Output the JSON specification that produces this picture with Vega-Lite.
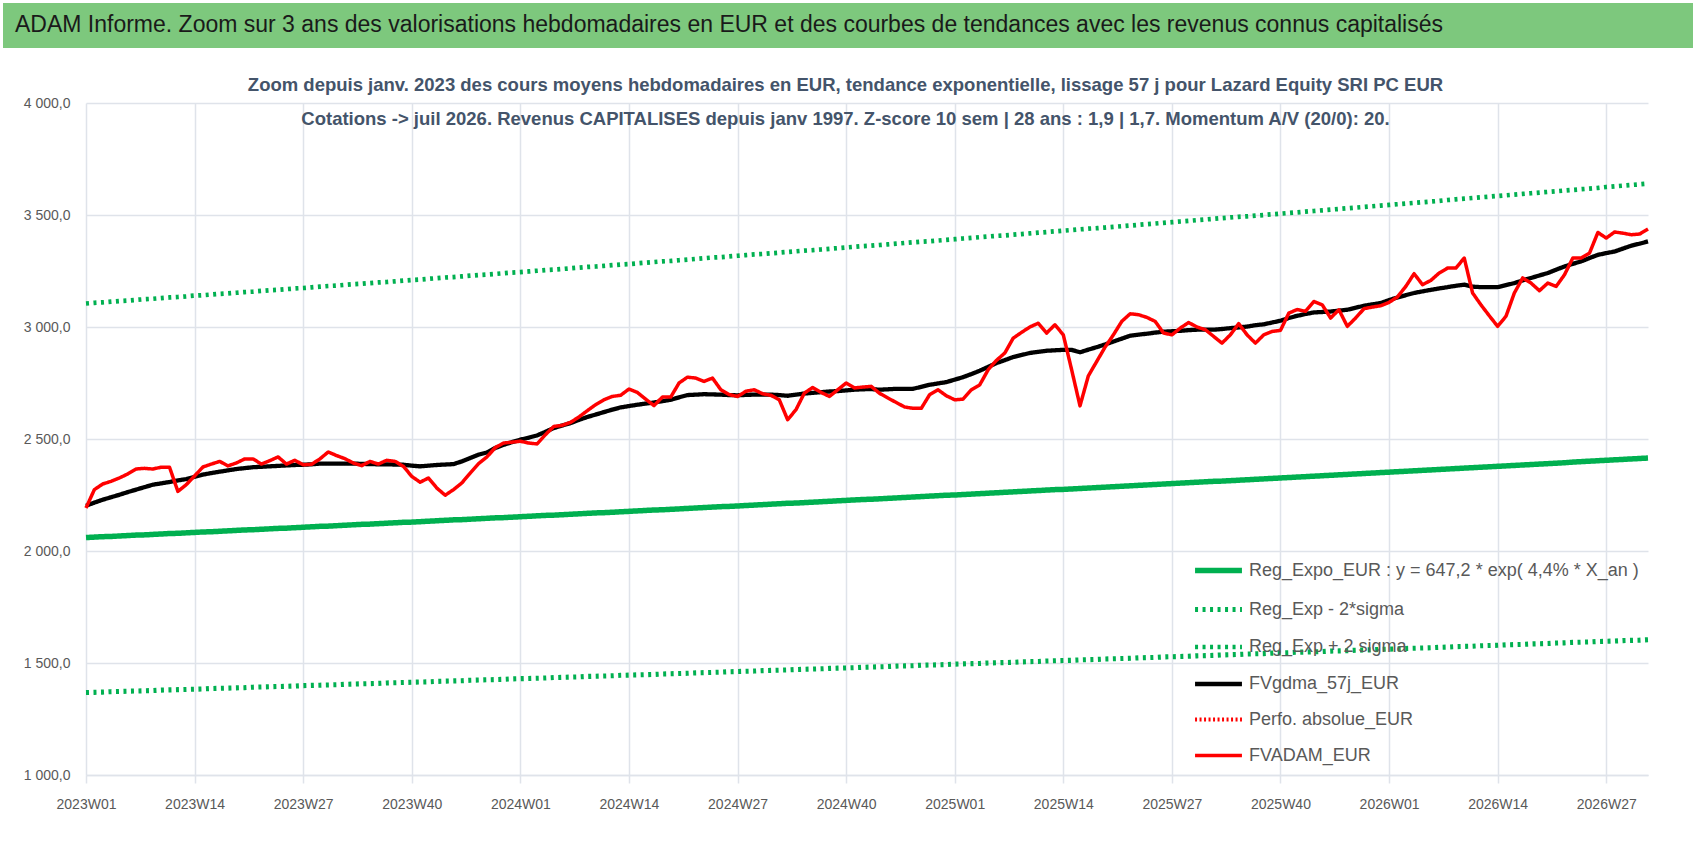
{
  "$schema": "https://vega.github.io/schema/vega-lite/v6.json",
  "background": "white",
  "padding": {"left": 3, "top": 3, "right": 0, "bottom": 0},
  "spacing": 27,
  "resolve": {
    "scale": {"color": "independent", "strokeDash": "independent", "strokeWidth": "independent"},
    "legend": {"color": "independent", "strokeDash": "independent", "strokeWidth": "independent"}
  },
  "config": {
    "font": "Liberation Sans",
    "locale": {"number": {"decimal": ",", "thousands": " ", "grouping": [3], "currency": ["", " €"]}},
    "view": {"stroke": null}
  },
  "datasets": {
    "banner": [{"t": ""}],
    "weeks": [
      {"w":"2023W01","fv":2192,"ma":2202,"reg":2060,"lo":1368,"hi":3105},
      {"w":"2023W02","fv":2274,"ma":2216,"reg":2062,"lo":1369,"hi":3108},
      {"w":"2023W03","fv":2299,"ma":2229,"reg":2064,"lo":1370,"hi":3110},
      {"w":"2023W04","fv":2311,"ma":2240,"reg":2065,"lo":1372,"hi":3113},
      {"w":"2023W05","fv":2326,"ma":2251,"reg":2067,"lo":1373,"hi":3116},
      {"w":"2023W06","fv":2344,"ma":2263,"reg":2069,"lo":1374,"hi":3118},
      {"w":"2023W07","fv":2366,"ma":2274,"reg":2071,"lo":1375,"hi":3121},
      {"w":"2023W08","fv":2369,"ma":2285,"reg":2072,"lo":1376,"hi":3124},
      {"w":"2023W09","fv":2366,"ma":2296,"reg":2074,"lo":1377,"hi":3126},
      {"w":"2023W10","fv":2374,"ma":2302,"reg":2076,"lo":1379,"hi":3129},
      {"w":"2023W11","fv":2374,"ma":2308,"reg":2078,"lo":1380,"hi":3132},
      {"w":"2023W12","fv":2266,"ma":2315,"reg":2079,"lo":1381,"hi":3134},
      {"w":"2023W13","fv":2296,"ma":2321,"reg":2081,"lo":1382,"hi":3137},
      {"w":"2023W14","fv":2335,"ma":2331,"reg":2083,"lo":1383,"hi":3140},
      {"w":"2023W15","fv":2375,"ma":2341,"reg":2085,"lo":1384,"hi":3142},
      {"w":"2023W16","fv":2388,"ma":2348,"reg":2086,"lo":1386,"hi":3145},
      {"w":"2023W17","fv":2400,"ma":2354,"reg":2088,"lo":1387,"hi":3148},
      {"w":"2023W18","fv":2380,"ma":2360,"reg":2090,"lo":1388,"hi":3150},
      {"w":"2023W19","fv":2393,"ma":2366,"reg":2092,"lo":1389,"hi":3153},
      {"w":"2023W20","fv":2411,"ma":2370,"reg":2094,"lo":1390,"hi":3156},
      {"w":"2023W21","fv":2411,"ma":2374,"reg":2095,"lo":1392,"hi":3158},
      {"w":"2023W22","fv":2388,"ma":2376,"reg":2097,"lo":1393,"hi":3161},
      {"w":"2023W23","fv":2403,"ma":2378,"reg":2099,"lo":1394,"hi":3164},
      {"w":"2023W24","fv":2420,"ma":2380,"reg":2101,"lo":1395,"hi":3166},
      {"w":"2023W25","fv":2388,"ma":2382,"reg":2102,"lo":1396,"hi":3169},
      {"w":"2023W26","fv":2405,"ma":2384,"reg":2104,"lo":1397,"hi":3172},
      {"w":"2023W27","fv":2385,"ma":2385,"reg":2106,"lo":1399,"hi":3174},
      {"w":"2023W28","fv":2387,"ma":2387,"reg":2108,"lo":1400,"hi":3177},
      {"w":"2023W29","fv":2411,"ma":2390,"reg":2110,"lo":1401,"hi":3180},
      {"w":"2023W30","fv":2442,"ma":2390,"reg":2111,"lo":1402,"hi":3183},
      {"w":"2023W31","fv":2426,"ma":2390,"reg":2113,"lo":1403,"hi":3185},
      {"w":"2023W32","fv":2412,"ma":2390,"reg":2115,"lo":1405,"hi":3188},
      {"w":"2023W33","fv":2393,"ma":2390,"reg":2117,"lo":1406,"hi":3191},
      {"w":"2023W34","fv":2381,"ma":2389,"reg":2119,"lo":1407,"hi":3193},
      {"w":"2023W35","fv":2400,"ma":2388,"reg":2120,"lo":1408,"hi":3196},
      {"w":"2023W36","fv":2388,"ma":2387,"reg":2122,"lo":1409,"hi":3199},
      {"w":"2023W37","fv":2405,"ma":2387,"reg":2124,"lo":1411,"hi":3201},
      {"w":"2023W38","fv":2400,"ma":2386,"reg":2126,"lo":1412,"hi":3204},
      {"w":"2023W39","fv":2378,"ma":2385,"reg":2128,"lo":1413,"hi":3207},
      {"w":"2023W40","fv":2333,"ma":2381,"reg":2129,"lo":1414,"hi":3210},
      {"w":"2023W41","fv":2307,"ma":2378,"reg":2131,"lo":1415,"hi":3212},
      {"w":"2023W42","fv":2326,"ma":2381,"reg":2133,"lo":1416,"hi":3215},
      {"w":"2023W43","fv":2281,"ma":2384,"reg":2135,"lo":1418,"hi":3218},
      {"w":"2023W44","fv":2249,"ma":2386,"reg":2137,"lo":1419,"hi":3221},
      {"w":"2023W45","fv":2274,"ma":2388,"reg":2139,"lo":1420,"hi":3223},
      {"w":"2023W46","fv":2304,"ma":2400,"reg":2140,"lo":1421,"hi":3226},
      {"w":"2023W47","fv":2348,"ma":2415,"reg":2142,"lo":1423,"hi":3229},
      {"w":"2023W48","fv":2390,"ma":2430,"reg":2144,"lo":1424,"hi":3232},
      {"w":"2023W49","fv":2420,"ma":2440,"reg":2146,"lo":1425,"hi":3234},
      {"w":"2023W50","fv":2462,"ma":2460,"reg":2148,"lo":1426,"hi":3237},
      {"w":"2023W51","fv":2482,"ma":2474,"reg":2149,"lo":1427,"hi":3240},
      {"w":"2023W52","fv":2486,"ma":2486,"reg":2151,"lo":1429,"hi":3243},
      {"w":"2024W01","fv":2490,"ma":2497,"reg":2153,"lo":1430,"hi":3245},
      {"w":"2024W02","fv":2482,"ma":2506,"reg":2155,"lo":1431,"hi":3248},
      {"w":"2024W03","fv":2478,"ma":2516,"reg":2157,"lo":1432,"hi":3251},
      {"w":"2024W04","fv":2519,"ma":2532,"reg":2159,"lo":1433,"hi":3254},
      {"w":"2024W05","fv":2556,"ma":2549,"reg":2160,"lo":1435,"hi":3256},
      {"w":"2024W06","fv":2561,"ma":2560,"reg":2162,"lo":1436,"hi":3259},
      {"w":"2024W07","fv":2574,"ma":2571,"reg":2164,"lo":1437,"hi":3262},
      {"w":"2024W08","fv":2598,"ma":2585,"reg":2166,"lo":1438,"hi":3265},
      {"w":"2024W09","fv":2626,"ma":2598,"reg":2168,"lo":1440,"hi":3268},
      {"w":"2024W10","fv":2653,"ma":2609,"reg":2170,"lo":1441,"hi":3270},
      {"w":"2024W11","fv":2675,"ma":2620,"reg":2171,"lo":1442,"hi":3273},
      {"w":"2024W12","fv":2690,"ma":2631,"reg":2173,"lo":1443,"hi":3276},
      {"w":"2024W13","fv":2695,"ma":2641,"reg":2175,"lo":1445,"hi":3279},
      {"w":"2024W14","fv":2723,"ma":2647,"reg":2177,"lo":1446,"hi":3281},
      {"w":"2024W15","fv":2708,"ma":2653,"reg":2179,"lo":1447,"hi":3284},
      {"w":"2024W16","fv":2678,"ma":2658,"reg":2181,"lo":1448,"hi":3287},
      {"w":"2024W17","fv":2649,"ma":2663,"reg":2183,"lo":1449,"hi":3290},
      {"w":"2024W18","fv":2687,"ma":2669,"reg":2184,"lo":1451,"hi":3293},
      {"w":"2024W19","fv":2687,"ma":2675,"reg":2186,"lo":1452,"hi":3295},
      {"w":"2024W20","fv":2750,"ma":2686,"reg":2188,"lo":1453,"hi":3298},
      {"w":"2024W21","fv":2776,"ma":2696,"reg":2190,"lo":1454,"hi":3301},
      {"w":"2024W22","fv":2772,"ma":2698,"reg":2192,"lo":1456,"hi":3304},
      {"w":"2024W23","fv":2757,"ma":2700,"reg":2194,"lo":1457,"hi":3307},
      {"w":"2024W24","fv":2772,"ma":2699,"reg":2196,"lo":1458,"hi":3310},
      {"w":"2024W25","fv":2720,"ma":2698,"reg":2198,"lo":1459,"hi":3312},
      {"w":"2024W26","fv":2698,"ma":2696,"reg":2199,"lo":1461,"hi":3315},
      {"w":"2024W27","fv":2690,"ma":2695,"reg":2201,"lo":1462,"hi":3318},
      {"w":"2024W28","fv":2713,"ma":2697,"reg":2203,"lo":1463,"hi":3321},
      {"w":"2024W29","fv":2720,"ma":2698,"reg":2205,"lo":1464,"hi":3324},
      {"w":"2024W30","fv":2702,"ma":2698,"reg":2207,"lo":1466,"hi":3326},
      {"w":"2024W31","fv":2695,"ma":2698,"reg":2209,"lo":1467,"hi":3329},
      {"w":"2024W32","fv":2675,"ma":2696,"reg":2211,"lo":1468,"hi":3332},
      {"w":"2024W33","fv":2586,"ma":2693,"reg":2213,"lo":1469,"hi":3335},
      {"w":"2024W34","fv":2631,"ma":2698,"reg":2214,"lo":1471,"hi":3338},
      {"w":"2024W35","fv":2705,"ma":2703,"reg":2216,"lo":1472,"hi":3341},
      {"w":"2024W36","fv":2730,"ma":2706,"reg":2218,"lo":1473,"hi":3343},
      {"w":"2024W37","fv":2708,"ma":2709,"reg":2220,"lo":1474,"hi":3346},
      {"w":"2024W38","fv":2690,"ma":2712,"reg":2222,"lo":1476,"hi":3349},
      {"w":"2024W39","fv":2720,"ma":2714,"reg":2224,"lo":1477,"hi":3352},
      {"w":"2024W40","fv":2750,"ma":2717,"reg":2226,"lo":1478,"hi":3355},
      {"w":"2024W41","fv":2728,"ma":2720,"reg":2228,"lo":1479,"hi":3358},
      {"w":"2024W42","fv":2732,"ma":2722,"reg":2230,"lo":1481,"hi":3361},
      {"w":"2024W43","fv":2735,"ma":2723,"reg":2231,"lo":1482,"hi":3363},
      {"w":"2024W44","fv":2704,"ma":2720,"reg":2233,"lo":1483,"hi":3366},
      {"w":"2024W45","fv":2683,"ma":2722,"reg":2235,"lo":1484,"hi":3369},
      {"w":"2024W46","fv":2663,"ma":2724,"reg":2237,"lo":1486,"hi":3372},
      {"w":"2024W47","fv":2643,"ma":2724,"reg":2239,"lo":1487,"hi":3375},
      {"w":"2024W48","fv":2637,"ma":2724,"reg":2241,"lo":1488,"hi":3378},
      {"w":"2024W49","fv":2637,"ma":2733,"reg":2243,"lo":1490,"hi":3381},
      {"w":"2024W50","fv":2698,"ma":2742,"reg":2245,"lo":1491,"hi":3383},
      {"w":"2024W51","fv":2720,"ma":2748,"reg":2247,"lo":1492,"hi":3386},
      {"w":"2024W52","fv":2693,"ma":2754,"reg":2249,"lo":1493,"hi":3389},
      {"w":"2025W01","fv":2675,"ma":2765,"reg":2250,"lo":1495,"hi":3392},
      {"w":"2025W02","fv":2678,"ma":2776,"reg":2252,"lo":1496,"hi":3395},
      {"w":"2025W03","fv":2720,"ma":2790,"reg":2254,"lo":1497,"hi":3398},
      {"w":"2025W04","fv":2742,"ma":2805,"reg":2256,"lo":1498,"hi":3401},
      {"w":"2025W05","fv":2809,"ma":2822,"reg":2258,"lo":1500,"hi":3404},
      {"w":"2025W06","fv":2851,"ma":2839,"reg":2260,"lo":1501,"hi":3407},
      {"w":"2025W07","fv":2884,"ma":2852,"reg":2262,"lo":1502,"hi":3409},
      {"w":"2025W08","fv":2950,"ma":2866,"reg":2264,"lo":1503,"hi":3412},
      {"w":"2025W09","fv":2976,"ma":2875,"reg":2266,"lo":1505,"hi":3415},
      {"w":"2025W10","fv":3000,"ma":2884,"reg":2268,"lo":1506,"hi":3418},
      {"w":"2025W11","fv":3017,"ma":2889,"reg":2270,"lo":1507,"hi":3421},
      {"w":"2025W12","fv":2973,"ma":2894,"reg":2272,"lo":1509,"hi":3424},
      {"w":"2025W13","fv":3010,"ma":2896,"reg":2274,"lo":1510,"hi":3427},
      {"w":"2025W14","fv":2965,"ma":2898,"reg":2275,"lo":1511,"hi":3430},
      {"w":"2025W15","fv":2809,"ma":2898,"reg":2277,"lo":1512,"hi":3433},
      {"w":"2025W16","fv":2648,"ma":2887,"reg":2279,"lo":1514,"hi":3436},
      {"w":"2025W17","fv":2782,"ma":2899,"reg":2281,"lo":1515,"hi":3439},
      {"w":"2025W18","fv":2846,"ma":2910,"reg":2283,"lo":1516,"hi":3441},
      {"w":"2025W19","fv":2910,"ma":2922,"reg":2285,"lo":1518,"hi":3444},
      {"w":"2025W20","fv":2965,"ma":2935,"reg":2287,"lo":1519,"hi":3447},
      {"w":"2025W21","fv":3025,"ma":2948,"reg":2289,"lo":1520,"hi":3450},
      {"w":"2025W22","fv":3059,"ma":2961,"reg":2291,"lo":1521,"hi":3453},
      {"w":"2025W23","fv":3055,"ma":2966,"reg":2293,"lo":1523,"hi":3456},
      {"w":"2025W24","fv":3043,"ma":2970,"reg":2295,"lo":1524,"hi":3459},
      {"w":"2025W25","fv":3025,"ma":2975,"reg":2297,"lo":1525,"hi":3462},
      {"w":"2025W26","fv":2973,"ma":2979,"reg":2299,"lo":1527,"hi":3465},
      {"w":"2025W27","fv":2965,"ma":2981,"reg":2301,"lo":1528,"hi":3468},
      {"w":"2025W28","fv":2995,"ma":2983,"reg":2303,"lo":1529,"hi":3471},
      {"w":"2025W29","fv":3020,"ma":2986,"reg":2305,"lo":1530,"hi":3474},
      {"w":"2025W30","fv":3000,"ma":2988,"reg":2307,"lo":1532,"hi":3477},
      {"w":"2025W31","fv":2988,"ma":2988,"reg":2309,"lo":1533,"hi":3480},
      {"w":"2025W32","fv":2958,"ma":2988,"reg":2311,"lo":1534,"hi":3483},
      {"w":"2025W33","fv":2928,"ma":2991,"reg":2312,"lo":1536,"hi":3486},
      {"w":"2025W34","fv":2965,"ma":2995,"reg":2314,"lo":1537,"hi":3489},
      {"w":"2025W35","fv":3015,"ma":2998,"reg":2316,"lo":1538,"hi":3492},
      {"w":"2025W36","fv":2965,"ma":3002,"reg":2318,"lo":1540,"hi":3494},
      {"w":"2025W37","fv":2928,"ma":3008,"reg":2320,"lo":1541,"hi":3497},
      {"w":"2025W38","fv":2965,"ma":3012,"reg":2322,"lo":1542,"hi":3500},
      {"w":"2025W39","fv":2980,"ma":3020,"reg":2324,"lo":1544,"hi":3503},
      {"w":"2025W40","fv":2985,"ma":3028,"reg":2326,"lo":1545,"hi":3506},
      {"w":"2025W41","fv":3062,"ma":3040,"reg":2328,"lo":1546,"hi":3509},
      {"w":"2025W42","fv":3078,"ma":3050,"reg":2330,"lo":1548,"hi":3512},
      {"w":"2025W43","fv":3070,"ma":3058,"reg":2332,"lo":1549,"hi":3515},
      {"w":"2025W44","fv":3114,"ma":3065,"reg":2334,"lo":1550,"hi":3518},
      {"w":"2025W45","fv":3099,"ma":3067,"reg":2336,"lo":1551,"hi":3521},
      {"w":"2025W46","fv":3040,"ma":3069,"reg":2338,"lo":1553,"hi":3524},
      {"w":"2025W47","fv":3077,"ma":3073,"reg":2340,"lo":1554,"hi":3527},
      {"w":"2025W48","fv":3003,"ma":3077,"reg":2342,"lo":1555,"hi":3530},
      {"w":"2025W49","fv":3040,"ma":3086,"reg":2344,"lo":1557,"hi":3533},
      {"w":"2025W50","fv":3082,"ma":3095,"reg":2346,"lo":1558,"hi":3536},
      {"w":"2025W51","fv":3089,"ma":3101,"reg":2348,"lo":1559,"hi":3539},
      {"w":"2025W52","fv":3095,"ma":3107,"reg":2350,"lo":1561,"hi":3542},
      {"w":"2026W01","fv":3110,"ma":3120,"reg":2352,"lo":1562,"hi":3545},
      {"w":"2026W02","fv":3134,"ma":3132,"reg":2354,"lo":1563,"hi":3548},
      {"w":"2026W03","fv":3181,"ma":3142,"reg":2356,"lo":1565,"hi":3551},
      {"w":"2026W04","fv":3238,"ma":3152,"reg":2358,"lo":1566,"hi":3554},
      {"w":"2026W05","fv":3189,"ma":3159,"reg":2360,"lo":1567,"hi":3557},
      {"w":"2026W06","fv":3208,"ma":3166,"reg":2362,"lo":1568,"hi":3560},
      {"w":"2026W07","fv":3241,"ma":3172,"reg":2364,"lo":1570,"hi":3563},
      {"w":"2026W08","fv":3263,"ma":3178,"reg":2366,"lo":1571,"hi":3567},
      {"w":"2026W09","fv":3263,"ma":3184,"reg":2368,"lo":1573,"hi":3570},
      {"w":"2026W10","fv":3308,"ma":3189,"reg":2370,"lo":1574,"hi":3573},
      {"w":"2026W11","fv":3152,"ma":3180,"reg":2372,"lo":1575,"hi":3576},
      {"w":"2026W12","fv":3099,"ma":3178,"reg":2374,"lo":1577,"hi":3579},
      {"w":"2026W13","fv":3050,"ma":3178,"reg":2376,"lo":1578,"hi":3582},
      {"w":"2026W14","fv":3003,"ma":3178,"reg":2378,"lo":1579,"hi":3585},
      {"w":"2026W15","fv":3048,"ma":3187,"reg":2380,"lo":1581,"hi":3588},
      {"w":"2026W16","fv":3152,"ma":3196,"reg":2382,"lo":1582,"hi":3591},
      {"w":"2026W17","fv":3219,"ma":3208,"reg":2384,"lo":1583,"hi":3594},
      {"w":"2026W18","fv":3196,"ma":3219,"reg":2386,"lo":1585,"hi":3597},
      {"w":"2026W19","fv":3162,"ma":3230,"reg":2388,"lo":1586,"hi":3600},
      {"w":"2026W20","fv":3196,"ma":3241,"reg":2390,"lo":1587,"hi":3603},
      {"w":"2026W21","fv":3181,"ma":3256,"reg":2392,"lo":1589,"hi":3606},
      {"w":"2026W22","fv":3233,"ma":3270,"reg":2394,"lo":1590,"hi":3609},
      {"w":"2026W23","fv":3308,"ma":3282,"reg":2397,"lo":1592,"hi":3612},
      {"w":"2026W24","fv":3308,"ma":3293,"reg":2399,"lo":1593,"hi":3615},
      {"w":"2026W25","fv":3330,"ma":3308,"reg":2401,"lo":1594,"hi":3618},
      {"w":"2026W26","fv":3422,"ma":3322,"reg":2403,"lo":1596,"hi":3621},
      {"w":"2026W27","fv":3397,"ma":3330,"reg":2405,"lo":1597,"hi":3625},
      {"w":"2026W28","fv":3424,"ma":3337,"reg":2407,"lo":1598,"hi":3628},
      {"w":"2026W29","fv":3419,"ma":3350,"reg":2409,"lo":1600,"hi":3631},
      {"w":"2026W30","fv":3412,"ma":3363,"reg":2411,"lo":1601,"hi":3634},
      {"w":"2026W31","fv":3415,"ma":3372,"reg":2413,"lo":1602,"hi":3637},
      {"w":"2026W32","fv":3437,"ma":3382,"reg":2415,"lo":1604,"hi":3640}
    ]
  },
  "vconcat": [
    {
      "width": 1690,
      "height": 45,
      "view": {"fill": "#7DC87D", "stroke": null},
      "data": {"name": "banner"},
      "mark": {"type": "text"},
      "encoding": {"text": {"field": "t", "type": "nominal"}},
      "title": {
        "text": "ADAM Informe. Zoom sur 3 ans des valorisations hebdomadaires en EUR et des courbes de tendances avec les revenus connus capitalisés",
        "orient": "bottom",
        "anchor": "start",
        "frame": "group",
        "offset": -34,
        "dx": 12,
        "fontSize": 23,
        "fontWeight": "normal",
        "color": "#1A1A1A"
      }
    },
    {
      "width": 1645,
      "height": 672,
      "data": {"name": "weeks"},
      "title": {
        "text": [
          "Zoom depuis janv. 2023 des cours moyens hebdomadaires en EUR, tendance exponentielle, lissage 57 j pour Lazard Equity SRI  PC EUR",
          "Cotations -> juil 2026. Revenus CAPITALISES  depuis janv 1997. Z-score 10 sem | 28 ans : 1,9  | 1,7. Momentum A/V (20/0): 20."
        ],
        "fontSize": 18.5,
        "fontWeight": "bold",
        "color": "#44546A",
        "lineHeight": 34,
        "anchor": "middle",
        "frame": "group",
        "offset": -32,
        "dx": 20
      },
      "transform": [
        {"fold": ["reg", "lo", "hi", "ma", "fv"], "as": ["series", "val"]}
      ],
      "mark": {"type": "line", "strokeJoin": "round", "strokeCap": "butt"},
      "encoding": {
        "x": {
          "field": "w",
          "type": "ordinal",
          "sort": null,
          "scale": {"type": "point", "padding": 0, "range": [83, 1645]},
          "axis": {
            "title": null,
            "values": ["2023W01","2023W14","2023W27","2023W40","2024W01","2024W14","2024W27","2024W40","2025W01","2025W14","2025W27","2025W40","2026W01","2026W14","2026W27"],
            "labelAngle": 0,
            "labelFontSize": 14,
            "labelColor": "#595959",
            "labelPadding": 14,
            "grid": true,
            "gridColor": "#DFE3EA",
            "gridWidth": 1.5,
            "domainColor": "#DFE3EA",
            "domainWidth": 1.5,
            "tickColor": "#DFE3EA",
            "tickWidth": 1.5,
            "tickSize": 8
          }
        },
        "y": {
          "field": "val",
          "type": "quantitative",
          "scale": {"domain": [1000, 4000], "nice": false},
          "axis": {
            "title": null,
            "offset": -83,
            "values": [1000, 1500, 2000, 2500, 3000, 3500, 4000],
            "format": ",.1f",
            "labelFontSize": 14,
            "labelColor": "#595959",
            "labelPadding": 16,
            "ticks": false,
            "domain": false,
            "grid": true,
            "gridColor": "#DFE3EA",
            "gridWidth": 1.5
          }
        },
        "color": {
          "field": "series",
          "type": "nominal",
          "scale": {
            "domain": ["reg", "lo", "hi", "ma", "perfo", "fv"],
            "range": ["#00B050", "#00B050", "#00B050", "#000000", "#FF0000", "#FF0000"]
          },
          "legend": {
            "title": null,
            "orient": "none",
            "legendX": 1189,
            "legendY": 441,
            "symbolType": "stroke",
            "symbolSize": 2200,
            "labelFontSize": 18,
            "labelLimit": 700,
            "labelColor": "#595959",
            "rowPadding": 1,
            "labelOffset": 4,
            "labelExpr": "{'reg': 'Reg_Expo_EUR : y = 647,2 * exp( 4,4% *  X_an )', 'lo': 'Reg_Exp - 2*sigma', 'hi': 'Reg_Exp + 2 sigma', 'ma': 'FVgdma_57j_EUR', 'perfo': 'Perfo. absolue_EUR', 'fv': 'FVADAM_EUR'}[datum.label]"
          }
        },
        "strokeDash": {
          "field": "series",
          "type": "nominal",
          "scale": {
            "domain": ["reg", "lo", "hi", "ma", "perfo", "fv"],
            "range": [[1, 0], [3, 4.5], [3, 4.5], [1, 0], [2, 2.5], [1, 0]]
          },
          "legend": null
        },
        "strokeWidth": {
          "field": "series",
          "type": "nominal",
          "scale": {
            "domain": ["reg", "lo", "hi", "ma", "perfo", "fv"],
            "range": [5.5, 3.5, 3.5, 4, 2, 5]
          },
          "legend": null
        }
      }
    }
  ]
}
